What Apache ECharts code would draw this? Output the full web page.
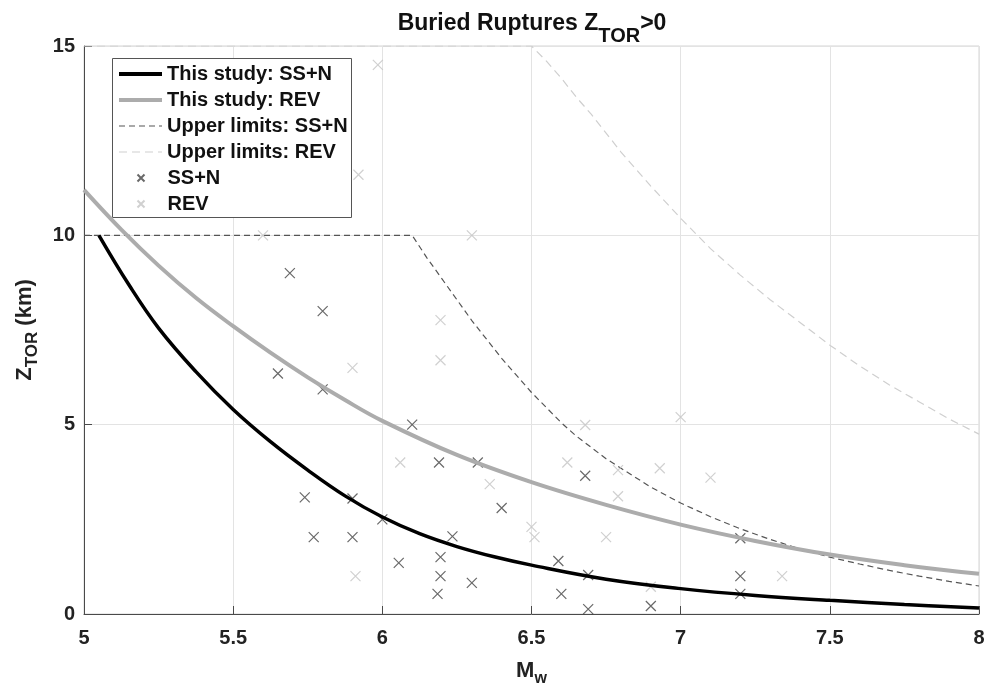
<!DOCTYPE html>
<html><head><meta charset="utf-8">
<script src="https://cdn.jsdelivr.net/npm/echarts@6/dist/echarts.min.js"></script>
<style>html,body{margin:0;padding:0;background:#fff}#c{width:988px;height:693px}</style>
</head><body><div id="c"></div>
<script>
// ---- data ----
const xTicks = [5, 5.5, 6, 6.5, 7, 7.5, 8];
const yTicks = [0, 5, 10, 15];

const studySSN = [[5.05,10.0],[5.15,8.7],[5.25,7.55],[5.375,6.4],[5.5,5.4],[5.625,4.55],[5.75,3.8],[5.875,3.12],[6.0,2.56],[6.125,2.12],[6.25,1.78],[6.375,1.51],[6.5,1.29],[6.75,0.92],[7.0,0.67],[7.25,0.49],[7.5,0.36],[7.75,0.25],[8.0,0.16]];
const studyREV = [[5.0,11.2],[5.125,10.15],[5.25,9.2],[5.375,8.35],[5.5,7.6],[5.625,6.9],[5.75,6.25],[5.875,5.65],[6.0,5.1],[6.25,4.2],[6.5,3.48],[6.75,2.88],[7.0,2.36],[7.25,1.93],[7.5,1.57],[7.75,1.29],[8.0,1.06]];
const upperSSN = [[5.0,10],[6.1,10],[6.15,9.4],[6.2,8.85],[6.25,8.3],[6.3,7.75],[6.35,7.25],[6.4,6.75],[6.45,6.3],[6.5,5.85],[6.55,5.45],[6.6,5.05],[6.65,4.7],[6.7,4.4],[6.75,4.1],[6.8,3.85],[6.9,3.35],[7.0,2.93],[7.1,2.57],[7.2,2.25],[7.3,1.97],[7.4,1.72],[7.5,1.5],[7.6,1.32],[7.7,1.15],[7.8,1.0],[7.9,0.86],[8.0,0.74]];
const upperREV = [[5.0,15],[6.5,15],[6.55,14.6],[6.6,14.15],[6.65,13.65],[6.7,13.2],[6.75,12.7],[6.8,12.2],[6.9,11.3],[7.0,10.45],[7.1,9.65],[7.2,8.95],[7.3,8.3],[7.4,7.7],[7.5,7.1],[7.6,6.55],[7.7,6.05],[7.8,5.6],[7.9,5.15],[8.0,4.75]];

const pointsSSN = [[5.69,9.0],[5.8,8.0],[5.65,6.35],[5.8,5.93],[6.1,5.0],[6.19,4.0],[6.32,4.0],[5.74,3.08],[5.9,3.05],[6.0,2.5],[6.235,2.05],[5.77,2.03],[5.9,2.03],[6.055,1.35],[6.195,1.5],[6.195,1.0],[6.185,0.53],[6.3,0.82],[6.4,2.8],[6.59,1.4],[6.6,0.53],[6.69,1.03],[6.69,0.13],[6.68,3.65],[6.9,0.21],[7.2,2.0],[7.2,1.0],[7.2,0.53]];
const pointsREV = [[5.985,14.5],[5.92,11.6],[5.6,10.0],[6.3,10.0],[6.195,7.76],[6.195,6.7],[5.9,6.5],[6.06,4.0],[5.91,1.0],[6.36,3.43],[6.5,2.3],[6.51,2.03],[6.68,4.99],[6.62,4.0],[6.79,3.8],[6.79,3.11],[6.75,2.03],[6.93,3.85],[6.9,0.72],[7.0,5.2],[7.1,3.6],[7.34,1.0]];

const names = ['This study: SS+N','This study: REV','Upper limits: SS+N','Upper limits: REV','SS+N','REV'];

const chart = echarts.init(document.getElementById('c'));
const FONT = '"Liberation Sans", Arial, sans-serif';
const crossPath = 'path://M0,0L10,10M10,0L0,10';
const C = { ssn: '#000', rev: '#acacac', ussn: '#555', urev: '#cfcfcf', pssn: '#444', prev: '#c4c4c4' };

chart.setOption({
  animation: false,
  backgroundColor: '#fff',
  textStyle: { fontFamily: FONT },
  title: {
    text: '{a|Buried Ruptures Z}{s|TOR}{a|>0}',
    left: 527, top: 7, textAlign: 'center',
    textStyle: {
      rich: {
        a: { fontFamily: FONT, fontWeight: 'bold', fontSize: 23, color: '#111', lineHeight: 28, verticalAlign: 'top' },
        s: { fontFamily: FONT, fontWeight: 'bold', fontSize: 20, color: '#111', lineHeight: 28, verticalAlign: 'top', padding:[14,0,0,0] }
      }
    }
  },
  grid: { left: 84, right: 9, top: 46, bottom: 79, show: true, borderColor: '#d4d4d4', borderWidth: 1 },
  xAxis: {
    type: 'value', min: xTicks[0], max: xTicks[xTicks.length-1], interval: 0.5,
    name: '{a|M}{s|w}', nameLocation: 'middle', nameGap: 46,
    nameTextStyle: { rich: {
      a: { fontFamily: FONT, fontWeight: 'bold', fontSize: 22, color: '#222', verticalAlign:'top', lineHeight: 26 },
      s: { fontFamily: FONT, fontWeight: 'bold', fontSize: 16, color: '#222', verticalAlign:'top', lineHeight: 26, padding:[11,0,0,0] }
    }},
    axisLine: { lineStyle: { color: '#4a4a4a', width: 1 } },
    axisTick: { inside: true, length: 8, lineStyle: { color: '#4a4a4a' } },
    axisLabel: { fontFamily: FONT, fontWeight: 'bold', fontSize: 20, color: '#222', margin: 14,
      formatter: v => xTicks.includes(v) ? String(v) : '' },
    splitLine: { show: true, lineStyle: { color: '#e3e3e3', width: 1 } }
  },
  yAxis: {
    type: 'value', min: yTicks[0], max: yTicks[yTicks.length-1], interval: 5,
    name: '{a|Z}{s|TOR}{a| (km)}', nameLocation: 'middle', nameGap: 44, nameRotate: 90,
    nameTextStyle: { rich: {
      a: { fontFamily: FONT, fontWeight: 'bold', fontSize: 22, color: '#222', verticalAlign:'top', lineHeight: 26 },
      s: { fontFamily: FONT, fontWeight: 'bold', fontSize: 17, color: '#222', verticalAlign:'top', lineHeight: 26, padding:[10,0,0,0] }
    }},
    axisLine: { show: true, lineStyle: { color: '#4a4a4a', width: 1 } },
    axisTick: { show: true, inside: true, length: 8, lineStyle: { color: '#4a4a4a' } },
    axisLabel: { fontFamily: FONT, fontWeight: 'bold', fontSize: 20, color: '#222', margin: 9,
      formatter: v => yTicks.includes(v) ? String(v) : '' },
    splitLine: { show: true, lineStyle: { color: '#e3e3e3', width: 1 } }
  },
  graphic: [{
    type: 'rect', left: 112, top: 58, z: 3,
    shape: { width: 239, height: 159 },
    style: { fill: '#fff', stroke: '#555', lineWidth: 1 }
  }],
  legend: [{
    data: [
      { name: names[0], lineStyle: { color: C.ssn, width: 4 } },
      { name: names[1], lineStyle: { color: C.rev, width: 4 } },
      { name: names[2], lineStyle: { color: C.ussn, width: 1.2, type: [6,4] } },
      { name: names[3], lineStyle: { color: C.urev, width: 1.2, type: [8,5] } }
    ],
    orient: 'vertical', left: 112, top: 59, z: 10,
    itemWidth: 43, itemHeight: 10, itemGap: 6, selectedMode: false,
    itemStyle: { color: 'transparent', borderWidth: 0, opacity: 0 },
    textStyle: { fontFamily: FONT, fontWeight: 'bold', fontSize: 20, color: '#111', lineHeight: 20 }
  },{
    data: names.slice(4), orient: 'vertical', left: 130, top: 163, z: 10,
    itemWidth: 7, itemHeight: 7, itemGap: 6, selectedMode: false,
    textStyle: { fontFamily: FONT, fontWeight: 'bold', fontSize: 20, color: '#111', lineHeight: 20, padding:[0,0,0,18] }
  }],
  series: [
    { name: names[3], type: 'line', data: upperREV, smooth: false, symbol: 'none', z: 2,
      lineStyle: { color: C.urev, width: 1.2, type: [8,5] } },
    { name: names[2], type: 'line', data: upperSSN, smooth: false, symbol: 'none', z: 2,
      lineStyle: { color: C.ussn, width: 1.2, type: [6,4] } },
    { name: names[5], type: 'scatter', data: pointsREV, symbol: crossPath, symbolSize: 10, z: 3,
      itemStyle: { color: 'none', borderColor: C.prev, borderWidth: 1.2 } },
    { name: names[4], type: 'scatter', data: pointsSSN, symbol: crossPath, symbolSize: 10, z: 3,
      itemStyle: { color: 'none', borderColor: C.pssn, borderWidth: 1.2 } },
    { name: names[1], type: 'line', data: studyREV, smooth: 0.4, symbol: 'none', z: 4,
      lineStyle: { color: C.rev, width: 4 } },
    { name: names[0], type: 'line', data: studySSN, smooth: 0.4, symbol: 'none', z: 4,
      lineStyle: { color: C.ssn, width: 3.5 } }
  ]
});
</script></body></html>
